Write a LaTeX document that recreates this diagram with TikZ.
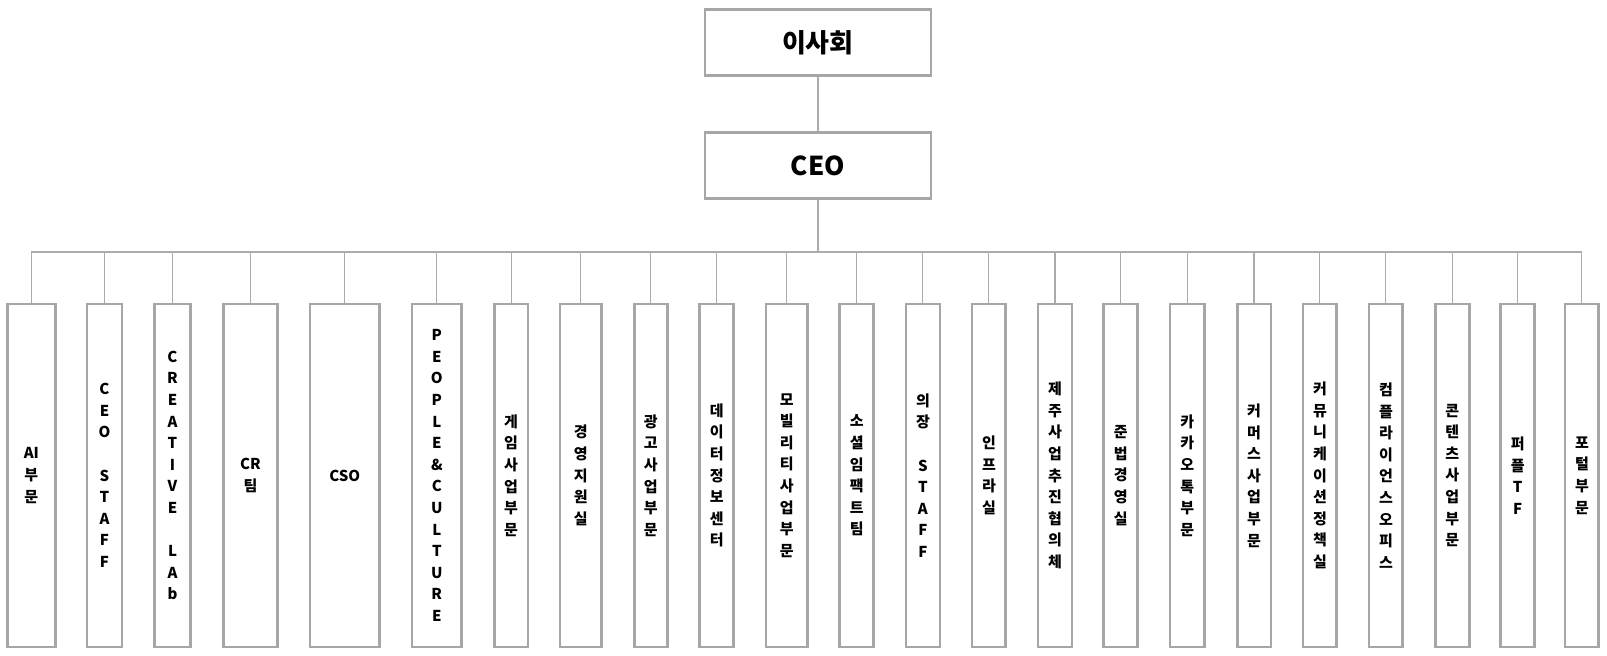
\documentclass[tikz,border=0pt]{standalone}
\usepackage{fontspec}
\newfontfamily\krfont{Noto Sans CJK KR}
\usepackage{tikz}
\usetikzlibrary{positioning}
\usepackage{xcolor}
\definecolor{boxgray}{HTML}{A6A6A6}
\definecolor{linegray}{HTML}{ABABAB}

\begin{document}
\begin{tikzpicture}[
  x=1pt, y=-1pt,
  topbox/.style={draw=boxgray, line width=2.8pt, minimum width=226pt, minimum height=66pt,
    font=\krfont\bfseries\fontsize{26}{30}\selectfont},
  unit/.style={draw=boxgray, line width=2.8pt, minimum height=343pt, inner sep=0pt, align=center,
    font=\krfont\bfseries\fontsize{15}{21.6}\selectfont},
  link/.style={draw=linegray, line width=1.8pt},
  drop/.style={draw=linegray, line width=1.1pt}
]
\useasboundingbox (0,0) rectangle (1607,656);

% --- Zarząd i CEO ---
\node[topbox] (board) at (817.9,42.7) {이사회};
\node[topbox] (ceo) at (817.9,165.5) {CEO};

% --- Jednostki (rząd pionowych pól) ---
\node[unit, minimum width=47.5pt] (ai) at (31.4,475.5) {AI\\부\\문};
\node[unit, minimum width=35pt] (ceostaff) at (104.5,475.5) {C\\E\\O\\[21.6pt]S\\T\\A\\F\\F};
\node[unit, minimum width=36.7pt] (creative) at (172.5,475.5) {C\\R\\E\\A\\T\\I\\V\\E\\[21.6pt]L\\A\\b};
\node[unit, minimum width=54.6pt] (crteam) at (250.4,475.5) {CR\\팀};
\node[unit, minimum width=69.6pt] (cso) at (344.7,475.5) {CSO};
\node[unit, minimum width=49.7pt] (people) at (436.8,475.5) {P\\E\\O\\P\\L\\E\\\&\\C\\U\\L\\T\\U\\R\\E};
\node[unit, minimum width=33.9pt] (game) at (511.1,475.5) {게\\임\\사\\업\\부\\문};
\node[unit, minimum width=41.8pt] (mgmt) at (580.8,475.5) {경\\영\\지\\원\\실};
\node[unit, minimum width=33.2pt] (ad) at (650.8,475.5) {광\\고\\사\\업\\부\\문};
\node[unit, minimum width=33.9pt] (data) at (716.8,475.5) {데\\이\\터\\정\\보\\센\\터};
\node[unit, minimum width=41.8pt] (mobility) at (786.8,475.5) {모\\빌\\리\\티\\사\\업\\부\\문};
\node[unit, minimum width=33.9pt] (social) at (856.8,475.5) {소\\셜\\임\\팩\\트\\팀};
\node[unit, minimum width=34pt] (chair) at (922.9,475.5) {의\\장\\[21.6pt]S\\T\\A\\F\\F};
\node[unit, minimum width=33.9pt] (infra) at (988.9,475.5) {인\\프\\라\\실};
\node[unit, minimum width=33.9pt] (jeju) at (1055,475.5) {제\\주\\사\\업\\추\\진\\협\\의\\체};
\node[unit, minimum width=33.7pt] (legal) at (1120.7,475.5) {준\\법\\경\\영\\실};
\node[unit, minimum width=34.5pt] (talk) at (1187.3,475.5) {카\\카\\오\\톡\\부\\문};
\node[unit, minimum width=33.8pt] (commerce) at (1254,475.5) {커\\머\\스\\사\\업\\부\\문};
\node[unit, minimum width=33.7pt] (comm) at (1319.9,475.5) {커\\뮤\\니\\케\\이\\션\\정\\책\\실};
\node[unit, minimum width=33.8pt] (compliance) at (1385.9,475.5) {컴\\플\\라\\이\\언\\스\\오\\피\\스};
\node[unit, minimum width=33.8pt] (content) at (1452.2,475.5) {콘\\텐\\츠\\사\\업\\부\\문};
\node[unit, minimum width=33.7pt] (purple) at (1517.7,475.5) {퍼\\플\\T\\F};
\node[unit, minimum width=33.8pt] (portal) at (1581.9,475.5) {포\\털\\부\\문};

% --- Szyna łącząca ---
\coordinate (busL) at (31.4,252);
\coordinate (busR) at (1581.9,252);

\draw[link] (board) -- (ceo);
\draw[link] (ceo) -- (ceo |- busL);
\draw[link] (busL) -- (busR);

% --- Odgałęzienia do jednostek ---
\draw[drop] (ai.north) -- (ai.north |- busL);
\draw[drop] (ceostaff.north) -- (ceostaff.north |- busL);
\draw[drop] (creative.north) -- (creative.north |- busL);
\draw[drop] (crteam.north) -- (crteam.north |- busL);
\draw[drop] (cso.north) -- (cso.north |- busL);
\draw[drop] (people.north) -- (people.north |- busL);
\draw[drop] (game.north) -- (game.north |- busL);
\draw[drop] (mgmt.north) -- (mgmt.north |- busL);
\draw[drop] (ad.north) -- (ad.north |- busL);
\draw[drop] (data.north) -- (data.north |- busL);
\draw[drop] (mobility.north) -- (mobility.north |- busL);
\draw[drop] (social.north) -- (social.north |- busL);
\draw[drop] (chair.north) -- (chair.north |- busL);
\draw[drop] (infra.north) -- (infra.north |- busL);
\draw[drop] (jeju.north) -- (jeju.north |- busL);
\draw[drop] (legal.north) -- (legal.north |- busL);
\draw[drop] (talk.north) -- (talk.north |- busL);
\draw[drop] (commerce.north) -- (commerce.north |- busL);
\draw[drop] (comm.north) -- (comm.north |- busL);
\draw[drop] (compliance.north) -- (compliance.north |- busL);
\draw[drop] (content.north) -- (content.north |- busL);
\draw[drop] (purple.north) -- (purple.north |- busL);
\draw[drop] (portal.north) -- (portal.north |- busL);

\end{tikzpicture}
\end{document}
